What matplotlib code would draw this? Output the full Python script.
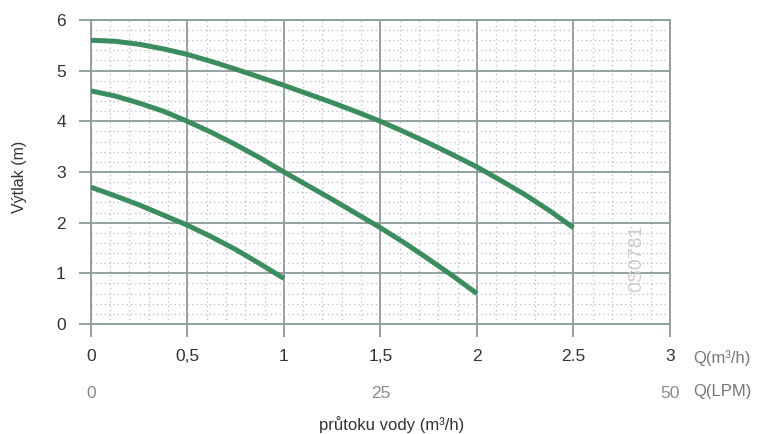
import numpy as np
import matplotlib.pyplot as plt
from matplotlib.ticker import MultipleLocator

plt.rcParams['font.family'] = ['Liberation Sans', 'DejaVu Sans']

# pump curves, flow in m3/h, head in m (read every 0.125 m3/h)
q = [0, 0.125, 0.25, 0.375, 0.5, 0.625, 0.75, 0.875, 1.0, 1.125, 1.25,
     1.375, 1.5, 1.625, 1.75, 1.875, 2.0, 2.125, 2.25, 2.375, 2.5]
h_high = [5.60, 5.58, 5.52, 5.43, 5.32, 5.18, 5.03, 4.87, 4.71, 4.54, 4.37,
          4.19, 4.00, 3.79, 3.57, 3.34, 3.10, 2.83, 2.55, 2.24, 1.90]
h_mid = [4.60, 4.50, 4.36, 4.20, 4.00, 3.78, 3.54, 3.28, 3.00, 2.73, 2.46,
         2.18, 1.90, 1.60, 1.28, 0.95, 0.60]
h_low = [2.70, 2.53, 2.35, 2.15, 1.95, 1.72, 1.47, 1.19, 0.90]

x_ticks = [0, 0.5, 1, 1.5, 2, 2.5, 3]
x_labels = ['0', '0,5', '1', '1,5', '2', '2.5', '3']
lpm_pos = [0, 1.5, 3]
lpm_labels = ['0', '25', '50']

fig = plt.figure(figsize=(7.7, 4.34), dpi=100)
ax = fig.add_axes([0.118, 0.2535, 0.752, 0.7005])

green = '#3b8c5e'
for h in (h_high, h_mid, h_low):
    ax.plot(q[:len(h)], h, color=green, lw=3.6, solid_capstyle='butt', zorder=3)

ax.set_xlim(0, 3)
ax.set_ylim(0, 6)
ax.xaxis.set_major_locator(MultipleLocator(0.5))
ax.xaxis.set_minor_locator(MultipleLocator(0.1))
ax.yaxis.set_major_locator(MultipleLocator(1))
ax.yaxis.set_minor_locator(MultipleLocator(0.2))
ax.grid(which='major', color='#8e9b9b', lw=1.3)
ax.grid(which='minor', color='#b8bfbf', lw=0.9, ls=(0, (1, 2.5)))
ax.set_axisbelow(True)
for s in ax.spines.values():
    s.set_color('#8e9b9b')
    s.set_linewidth(1.3)

ax.set_xticks(x_ticks)
ax.set_xticklabels(x_labels)
ax.tick_params(which='major', length=9, width=1.3, color='#8e9b9b',
               labelsize=12.5, labelcolor='#333333')
ax.tick_params(which='minor', length=0)
ax.tick_params(axis='y', pad=9)
ax.tick_params(axis='x', pad=9)

xt = ax.get_xaxis_transform()
for p, lab in zip(lpm_pos, lpm_labels):
    ax.text(p, -0.228, lab, transform=xt, ha='center', va='center',
            fontsize=12.5, color='#8a8a8a')
ax.text(1.04, -0.112, 'Q(m³/h)', transform=ax.transAxes,
        ha='left', va='center', fontsize=12, color='#777777')
ax.text(1.04, -0.222, 'Q(LPM)', transform=ax.transAxes,
        ha='left', va='center', fontsize=12, color='#777777')

ax.set_xlabel('průtoku vody (m³/h)', fontsize=12, color='#333333', va='center')
ax.xaxis.set_label_coords(0.52, -0.332)
ax.set_ylabel('Výtlak (m)', fontsize=11.5, color='#333333', va='center')
ax.yaxis.set_label_coords(-0.123, 0.484)

ax.text(2.83, 1.3, '0S0781', rotation=90, ha='center', va='center',
        fontsize=14, color='#cccccc', zorder=2)

fig.savefig('out.png', dpi=100)
